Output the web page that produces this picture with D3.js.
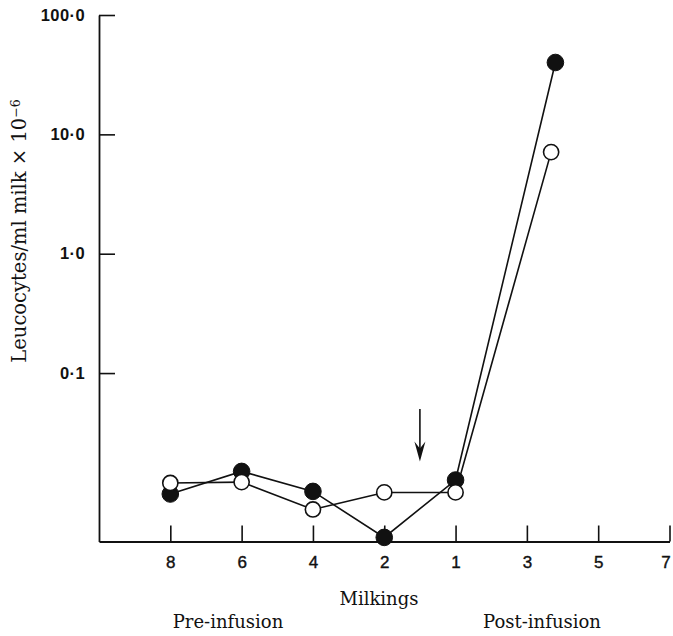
<!DOCTYPE html>
<html>
<head>
<meta charset="utf-8">
<script src="https://cdn.jsdelivr.net/npm/d3@7"></script>
<style>
  html, body { margin: 0; padding: 0; background: #fff; }
  svg { display: block; }
</style>
</head>
<body>
<svg id="chart" width="673" height="636"></svg>
<script>
// ---- data ----
const xLabels = ["8", "6", "4", "2", "1", "3", "5", "7"];
const xTickPositions = [0, 1, 2, 3, 4, 5, 6, 7];
const yTickValues = [0.1, 1, 10, 100];
const yTickLabels = ["0·1", "1·0", "10·0", "100·0"];

// filled circles series
const filledPos = [0, 1, 2, 3, 4, 5.4];
const filledVal = [0.0097, 0.015, 0.0102, 0.0042, 0.0127, 40];
// open circles series
const openPos = [0, 1, 2, 3, 4, 5.34];
const openVal = [0.012, 0.0122, 0.0072, 0.0100, 0.0100, 7.1];

// infusion arrow annotation (between milkings 2 and 1)
const arrowPos = 3.5;
const arrowFrom = 0.05;
const arrowTo = 0.0182;

// ---- chart ----
const svg = d3.select("#chart");
const x = d3.scaleLinear().domain([-1, 7]).range([99, 669.5]);
const y = d3.scaleLog().domain([0.00388, 100]).range([541.5, 15]);

const ink = "#111";

// y axis
const yAxis = d3.axisLeft(y)
  .tickValues(yTickValues)
  .tickFormat((d, i) => yTickLabels[i])
  .tickSizeInner(-16)
  .tickSizeOuter(0)
  .tickPadding(14);
const gy = svg.append("g").attr("transform", `translate(${x(-1)},0)`).call(yAxis);
gy.select(".domain").attr("stroke", ink).attr("stroke-width", 1.8);
gy.selectAll(".tick line").attr("stroke", ink).attr("stroke-width", 1.6);
gy.selectAll(".tick text")
  .attr("fill", ink)
  .style("font-family", "'Liberation Sans', Arial, sans-serif")
  .style("font-weight", "bold")
  .style("font-size", "16.5px")
  .style("letter-spacing", "0.4px");

// x axis
const xAxis = d3.axisBottom(x)
  .tickValues(xTickPositions)
  .tickFormat((d, i) => xLabels[i])
  .tickSizeInner(-16)
  .tickSizeOuter(0)
  .tickPadding(14);
const gx = svg.append("g").attr("transform", `translate(0,${y(0.00388)})`).call(xAxis);
gx.select(".domain").attr("stroke", ink).attr("stroke-width", 1.8);
gx.selectAll(".tick line").attr("stroke", ink).attr("stroke-width", 1.6);
gx.selectAll(".tick text")
  .attr("fill", ink)
  .attr("dx", (d, i) => i === xLabels.length - 1 ? -4 : 0)
  .style("font-family", "'Liberation Sans', Arial, sans-serif")
  .style("font-size", "17px")
  .style("stroke", ink)
  .style("stroke-width", "0.4px");

// series
const filledData = filledPos.map((p, i) => ({ p, v: filledVal[i] }));
const openData = openPos.map((p, i) => ({ p, v: openVal[i] }));
const line = d3.line().x(d => x(d.p)).y(d => y(d.v));

svg.append("path").datum(filledData).attr("d", line)
  .attr("fill", "none").attr("stroke", ink).attr("stroke-width", 1.6);
svg.append("path").datum(openData).attr("d", line)
  .attr("fill", "none").attr("stroke", ink).attr("stroke-width", 1.6);

svg.append("g").selectAll("circle").data(filledData).join("circle")
  .attr("cx", d => x(d.p)).attr("cy", d => y(d.v)).attr("r", 8.3)
  .attr("fill", ink).attr("stroke", ink).attr("stroke-width", 1);
svg.append("g").selectAll("circle").data(openData).join("circle")
  .attr("cx", d => x(d.p)).attr("cy", d => y(d.v)).attr("r", 7.6)
  .attr("fill", "#fff").attr("stroke", ink).attr("stroke-width", 1.6);

// arrow
const ax = x(arrowPos), ay0 = y(arrowFrom), ay1 = y(arrowTo);
svg.append("line").attr("x1", ax).attr("x2", ax).attr("y1", ay0).attr("y2", ay1 - 8)
  .attr("stroke", ink).attr("stroke-width", 1.6);
svg.append("path")
  .attr("d", `M${ax},${ay1} L${ax - 5.5},${ay1 - 20} L${ax},${ay1 - 13} L${ax + 5.5},${ay1 - 20} Z`)
  .attr("fill", ink);

// y axis title
const serif = "'DejaVu Serif', 'Liberation Serif', serif";
const yt = svg.append("text")
  .attr("transform", "translate(26,231) rotate(-90)")
  .attr("text-anchor", "middle")
  .attr("fill", ink)
  .style("font-family", serif)
  .style("font-size", "19.5px");
yt.append("tspan").text("Leucocytes/ml milk × 10");
yt.append("tspan").attr("dy", "-0.45em").style("font-size", "12.5px").text("−6");

// bottom labels
svg.append("text").attr("x", 379).attr("y", 605).attr("text-anchor", "middle")
  .attr("fill", ink).style("font-family", serif).style("font-size", "18px").text("Milkings");
svg.append("text").attr("x", 228).attr("y", 628).attr("text-anchor", "middle")
  .attr("fill", ink).style("font-family", serif).style("font-size", "18px").text("Pre-infusion");
svg.append("text").attr("x", 542).attr("y", 628).attr("text-anchor", "middle")
  .attr("fill", ink).style("font-family", serif).style("font-size", "18px").text("Post-infusion");
</script>
</body>
</html>
